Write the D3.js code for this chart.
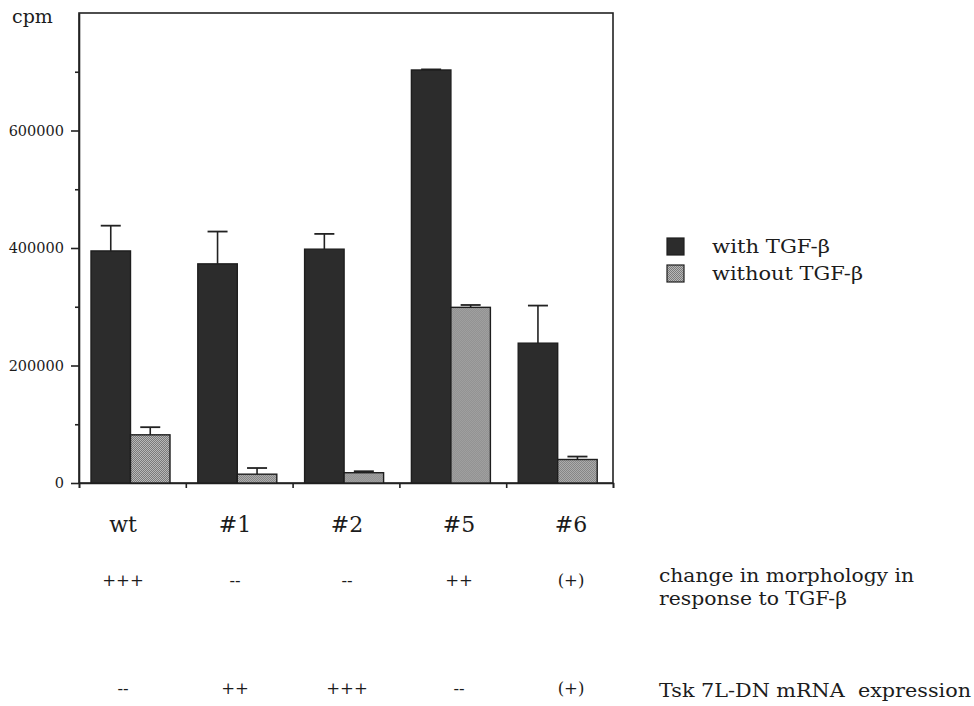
<!DOCTYPE html>
<html>
<head>
<meta charset="utf-8">
<script src="https://cdn.jsdelivr.net/npm/d3@7"></script>
<style>
  body { margin: 0; background: #fff; }
  text { font-family: "DejaVu Serif", serif; fill: #1c1c1c; }
</style>
</head>
<body>
<div id="chart"></div>
<script>
// Data
const clones = ['wt', '#1', '#2', '#5', '#6']
const series = ['with TGF-β', 'without TGF-β']
const withTGF = [395000, 373000, 398000, 703000, 238000]
const withTGFErr = [43000, 55000, 26000, 1000, 64000]
const withoutTGF = [82000, 15000, 17500, 299000, 40000]
const withoutTGFErr = [13000, 10500, 2500, 4000, 5000]
const morphology = ['+++', '--', '--', '++', '(+)']
const mrnaExpr = ['--', '++', '+++', '--', '(+)']
const yTicks = [0, 100000, 200000, 300000, 400000, 500000, 600000, 700000]
const yLabels = [0, 200000, 400000, 600000]

// Canvas
const width = 974,
  height = 706,
  plotLeft = 79,
  plotRight = 613,
  plotTop = 13,
  plotBottom = 483

let svg = d3.select('#chart')
  .append('svg')
  .attr('width', width)
  .attr('height', height)

// stipple for the light bars
let defs = svg.append('defs')
let pat = defs.append('pattern')
  .attr('id', 'stip')
  .attr('width', 2).attr('height', 2)
  .attr('patternUnits', 'userSpaceOnUse')
pat.append('rect').attr('width', 2).attr('height', 2).attr('fill', '#b8b8b8')
pat.append('rect').attr('width', 1).attr('height', 1).attr('fill', '#7a7a7a')
pat.append('rect').attr('x', 1).attr('y', 1).attr('width', 1).attr('height', 1).attr('fill', '#7a7a7a')

// scales
const x0 = d3.scaleBand()
  .domain(clones)
  .range([plotLeft, plotRight])

const x1 = d3.scaleBand()
  .domain(series)
  .range([12, 91])

const yScale = d3.scaleLinear()
  .domain([0, 800000])
  .range([plotBottom, plotTop])

// group boundary ticks
const xEdges = d3.scaleLinear()
  .domain([0, clones.length])
  .range([plotLeft, plotRight])

// frame
svg.append('rect')
  .attr('x', plotLeft).attr('y', plotTop)
  .attr('width', plotRight - plotLeft).attr('height', plotBottom - plotTop)
  .attr('fill', 'none')
  .attr('stroke', '#222')
  .attr('stroke-width', 1.6)

// y axis
let yAxis = d3.axisLeft(yScale)
  .tickValues(yTicks)
  .tickSize(0)
  .tickFormat(d => yLabels.includes(d) ? d : '')

let gy = svg.append('g')
  .attr('transform', `translate(${plotLeft}, 0)`)
  .call(yAxis)
gy.select('.domain').attr('stroke', '#222').attr('stroke-width', 1.6)
gy.selectAll('.tick line')
  .attr('x2', d => yLabels.includes(d) ? -8 : -4)
  .attr('stroke', '#222')
  .attr('stroke-width', 1.6)
gy.selectAll('.tick text')
  .attr('x', -15)
  .style('font-family', '"DejaVu Serif", serif')
  .style('font-size', '14.5px')
  .attr('fill', '#2a2a2a')

// x axis
let gx = svg.append('g')
  .attr('transform', `translate(0, ${plotBottom})`)
  .call(d3.axisBottom(xEdges).ticks(clones.length).tickSize(5).tickFormat(''))
gx.select('.domain').attr('stroke', '#222').attr('stroke-width', 1.6)
gx.selectAll('.tick line').attr('stroke', '#222').attr('stroke-width', 1.6)

// bars
let rows = clones.map((c, i) => ({
  clone: c,
  vals: [
    { s: series[0], v: withTGF[i], e: withTGFErr[i] },
    { s: series[1], v: withoutTGF[i], e: withoutTGFErr[i] }
  ]
}))

let groups = svg.selectAll('g.grp')
  .data(rows)
  .enter()
  .append('g')
  .attr('class', 'grp')
  .attr('transform', d => `translate(${x0(d.clone)}, 0)`)

let bar = groups.selectAll('g.bar')
  .data(d => d.vals)
  .enter()
  .append('g')
  .attr('class', 'bar')

// error bars (upward only)
bar.append('line')
  .attr('x1', d => x1(d.s) + x1.bandwidth() / 2)
  .attr('x2', d => x1(d.s) + x1.bandwidth() / 2)
  .attr('y1', d => yScale(d.v))
  .attr('y2', d => yScale(d.v + d.e))
  .attr('stroke', '#222')
  .attr('stroke-width', 1.6)
bar.append('line')
  .attr('x1', d => x1(d.s) + x1.bandwidth() / 2 - 10)
  .attr('x2', d => x1(d.s) + x1.bandwidth() / 2 + 10)
  .attr('y1', d => yScale(d.v + d.e))
  .attr('y2', d => yScale(d.v + d.e))
  .attr('stroke', '#222')
  .attr('stroke-width', 1.8)

bar.append('rect')
  .attr('x', d => x1(d.s))
  .attr('y', d => yScale(d.v))
  .attr('width', x1.bandwidth())
  .attr('height', d => plotBottom - yScale(d.v))
  .attr('fill', d => d.s === series[0] ? '#2c2c2c' : 'url(#stip)')
  .attr('stroke', '#1e1e1e')
  .attr('stroke-width', 1.4)

// y unit
svg.append('text')
  .attr('x', 12).attr('y', 23)
  .style('font-size', '19px')
  .text('cpm')

// category labels and annotation rows
const labelPos = d3.scalePoint()
  .domain(clones)
  .range([123, 571])

svg.selectAll('text.cat')
  .data(clones)
  .enter()
  .append('text')
  .attr('class', 'cat')
  .attr('x', d => labelPos(d))
  .attr('y', 532)
  .attr('text-anchor', 'middle')
  .style('font-size', '22px')
  .text(d => d)

svg.selectAll('text.morph')
  .data(morphology)
  .enter()
  .append('text')
  .attr('class', 'morph')
  .attr('x', (d, i) => labelPos(clones[i]))
  .attr('y', 586)
  .attr('text-anchor', 'middle')
  .style('font-size', '16.5px')
  .text(d => d)

svg.selectAll('text.mrna')
  .data(mrnaExpr)
  .enter()
  .append('text')
  .attr('class', 'mrna')
  .attr('x', (d, i) => labelPos(clones[i]))
  .attr('y', 694)
  .attr('text-anchor', 'middle')
  .style('font-size', '16.5px')
  .text(d => d)

// row captions (stretched to the wide schoolbook face of the original)
const captions = [
  { t: 'change in morphology in', y: 582, w: 255 },
  { t: 'response to TGF-β', y: 605, w: 188 },
  { t: 'Tsk 7L-DN mRNA  expression', y: 697, w: 312 }
]
svg.selectAll('text.cap')
  .data(captions)
  .enter()
  .append('text')
  .attr('class', 'cap')
  .attr('x', 659)
  .attr('y', d => d.y)
  .attr('textLength', d => d.w)
  .attr('lengthAdjust', 'spacingAndGlyphs')
  .style('font-size', '18px')
  .style('white-space', 'pre')
  .text(d => d.t)

// legend
const legendW = [118, 151]
let legend = svg.selectAll('g.leg')
  .data(series)
  .enter()
  .append('g')
  .attr('class', 'leg')
  .attr('transform', (d, i) => `translate(667, ${238 + i * 27})`)
legend.append('rect')
  .attr('width', 17).attr('height', 17)
  .attr('fill', (d, i) => i === 0 ? '#2c2c2c' : 'url(#stip)')
  .attr('stroke', '#1e1e1e')
  .attr('stroke-width', 1.2)
legend.append('text')
  .attr('x', 45).attr('y', 15)
  .attr('textLength', (d, i) => legendW[i])
  .attr('lengthAdjust', 'spacingAndGlyphs')
  .style('font-size', '18px')
  .text(d => d)
</script>
</body>
</html>
